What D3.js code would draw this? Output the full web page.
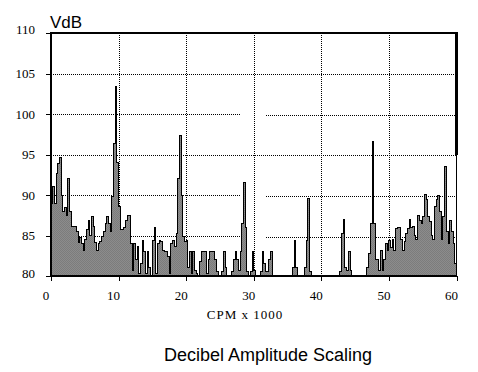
<!DOCTYPE html>
<html><head><meta charset="utf-8">
<script src="https://cdn.jsdelivr.net/npm/d3@7"></script>
<style>html,body{margin:0;padding:0;background:#fff;} svg{display:block;}</style>
</head><body>
<script>
// spectrum bins, thousand CPM per bin
const binStep = 0.25;
// amplitude (VdB) per bin, starting at 0 CPM
const ampDb = [
 89, 91, 89, 92.7, 93.9, 94.6, 90, 88, 88.4, 87.5,
 92, 88, 86.1, 86.1, 86.1, 85.5, 84.1, 84.7, 84, 83.2,
 84.5, 85.7, 86.9, 85, 87.3, 86.1, 84.1, 83.2, 84, 84.2,
 84.9, 85.5, 86.5, 87.3, 86.5, 85.5, 89.8, 96.4, 103.4, 94,
 88.6, 85.7, 85.7, 86, 86.9, 87.5, 87.5, 84, 80.7, 84,
 82, 83.6, 80.3, 81.5, 84.4, 83, 80.3, 83, 81, 80,
 84.4, 86, 80.3, 84, 84.4, 84.2, 83.2, 83, 83, 82.4,
 80.3, 84, 84.4, 83.6, 85.3, 92, 97.4, 90, 84.9, 84.3,
 84.4, 81, 83, 80.3, 83, 80.7, 80.3, 80, 81.8, 83,
 83, 83, 80.3, 82, 83, 83, 83, 82, 80.5, 80,
 80, 80.5, 83, 81, 80, 80, 80, 80.5, 82, 83,
 82, 80.7, 83, 86.5, 91.6, 86, 80.5, 80, 80.5, 83,
 80.7, 80, 80, 80, 80.5, 83, 81.5, 80.5, 80.5, 82,
 83, 80, 80, 80, 80, 80, 80, 80, 80, 80,
 80, 80, 80, 81, 84.4, 81, 80, 80, 80, 80,
 81, 84.4, 89.6, 80.5, 80, 80, 80, 80, 80, 80,
 80, 80, 80, 80, 80, 80, 80, 80, 80, 80,
 80, 80.5, 85.3, 87, 81, 80.7, 83, 80.7, 80, 80,
 80, 80, 80, 80, 80, 80, 80, 81, 82.8, 86.5,
 96.6, 86.5, 82, 82, 80.7, 83.2, 80.7, 82, 84, 83.2,
 84.4, 83.5, 84.5, 83.2, 85.9, 86, 86, 84.5, 83.2, 84.3,
 85.3, 85.9, 87, 86, 86.1, 85, 84.5, 87.5, 86.8, 86.5,
 87.3, 90.1, 89.5, 87.3, 86.7, 85, 84.5, 88.6, 89.4, 90,
 88, 84.5, 87.3, 93.5, 85.5, 84, 86.9, 85.5, 84, 81.5
];
const xTicks = [0, 10, 20, 30, 40, 50, 60];
const yTicks = [80, 85, 90, 95, 100, 105, 110];
const gridX = [10, 20, 30, 40, 50];
const gridY = [85, 90, 95, 100, 105];
const gappedGridY = [85, 90, 100];
const gridGap = [28.1, 31.8];
const xLabel = "CPM x 1000";
const yLabel = "VdB";
const title = "Decibel Amplitude Scaling";

const W = 478, H = 372;
const svg = d3.select("body").append("svg").attr("width", W).attr("height", H);
const x = d3.scaleLinear().domain([0, 60]).range([51, 456.5]);
const y = d3.scaleLinear().domain([80, 110]).range([276, 33]);

// fill pattern (dithered grey)
const defs = svg.append("defs");
const pat = defs.append("pattern").attr("id", "dither").attr("patternUnits", "userSpaceOnUse")
  .attr("width", 2).attr("height", 2);
pat.append("rect").attr("width", 2).attr("height", 2).attr("fill", "#8c8c8c");
pat.append("rect").attr("width", 1).attr("height", 1).attr("fill", "#7c7c7c");
pat.append("rect").attr("x", 1).attr("y", 1).attr("width", 1).attr("height", 1).attr("fill", "#7c7c7c");

// gridlines
const grid = svg.append("g").attr("stroke", "#000").attr("stroke-width", 1)
  .attr("stroke-dasharray", "1,1").attr("shape-rendering", "crispEdges");
gridY.forEach(v => {
  const yy = Math.round(y(v)) + 0.5;
  if (gappedGridY.includes(v)) {
    grid.append("line").attr("x1", x(0)).attr("x2", x(gridGap[0])).attr("y1", yy).attr("y2", yy);
    grid.append("line").attr("x1", x(gridGap[1])).attr("x2", x(60)).attr("y1", yy + 1).attr("y2", yy + 1);
  } else {
    grid.append("line").attr("x1", x(0)).attr("x2", x(60)).attr("y1", yy).attr("y2", yy);
  }
});
gridX.forEach(v => {
  const xx = Math.round(x(v)) + 0.5;
  grid.append("line").attr("x1", xx).attr("x2", xx).attr("y1", y(110)).attr("y2", y(80));
});

// spectrum area
const pts = ampDb.map((v, i) => [i * binStep, v]);
pts.push([ampDb.length * binStep, ampDb[ampDb.length - 1]]);
const area = d3.area().x(d => x(d[0])).y0(y(80)).y1(d => y(d[1])).curve(d3.curveStepAfter);
const line = d3.line().x(d => x(d[0])).y(d => y(d[1])).curve(d3.curveStepAfter);
svg.append("path").attr("d", area(pts)).attr("fill", "url(#dither)");
svg.append("path").attr("d", line(pts)).attr("fill", "none").attr("stroke", "#000")
  .attr("stroke-width", 1).attr("shape-rendering", "crispEdges");

// axes
const yAxis = svg.append("g").attr("transform", `translate(${x(0)},0)`)
  .call(d3.axisLeft(y).tickValues(yTicks).tickSize(5).tickPadding(11).tickFormat(d3.format("d")));
yAxis.select(".domain").remove();
yAxis.selectAll(".tick line").attr("stroke", "#000").attr("shape-rendering", "crispEdges");
yAxis.selectAll(".tick text").attr("font-family", "'Liberation Serif', serif").attr("font-size", 13)
  .attr("fill", "#000").attr("dy", d => d === 110 ? "-0.0em" : d === 80 ? "0.08em" : "0.32em");

const xAxis = svg.append("g").attr("transform", `translate(0,${y(80)})`)
  .call(d3.axisBottom(x).tickValues(xTicks).tickSize(5).tickPadding(10).tickFormat(d3.format("d")));
xAxis.select(".domain").remove();
xAxis.selectAll(".tick line").attr("stroke", "#000").attr("shape-rendering", "crispEdges");
xAxis.selectAll(".tick text").attr("font-family", "'Liberation Serif', serif").attr("font-size", 13)
  .attr("fill", "#000").attr("dx", -5.5);

// frame
const frame = svg.append("g").attr("stroke", "#000").attr("shape-rendering", "crispEdges");
frame.append("line").attr("x1", x(0)).attr("x2", x(0)).attr("y1", y(110) - 1).attr("y2", y(80) + 1).attr("stroke-width", 2);
frame.append("line").attr("x1", x(0) - 1).attr("x2", x(60) + 1.5).attr("y1", y(110)).attr("y2", y(110)).attr("stroke-width", 2);
frame.append("line").attr("x1", x(0) - 1).attr("x2", x(60)).attr("y1", y(80)).attr("y2", y(80)).attr("stroke-width", 2);
frame.append("line").attr("x1", x(60)).attr("x2", x(60)).attr("y1", y(110)).attr("y2", y(95)).attr("stroke-width", 3);
frame.append("line").attr("x1", x(60) - 0.5).attr("x2", x(60) - 0.5).attr("y1", y(95)).attr("y2", y(80)).attr("stroke-width", 1);

// labels
svg.append("text").attr("x", 50).attr("y", 28).text(yLabel)
  .attr("font-family", "'Liberation Sans', Arial, sans-serif").attr("font-size", 17).attr("fill", "#000");
svg.append("text").attr("x", 245).attr("y", 319).attr("text-anchor", "middle").text(xLabel)
  .attr("font-family", "'Liberation Serif', serif").attr("font-size", 13).attr("letter-spacing", 1).attr("fill", "#000");
svg.append("text").attr("x", 268).attr("y", 361).attr("text-anchor", "middle").text(title)
  .attr("font-family", "'Liberation Sans', Arial, sans-serif").attr("font-size", 18).attr("fill", "#000");
</script>
</body></html>
